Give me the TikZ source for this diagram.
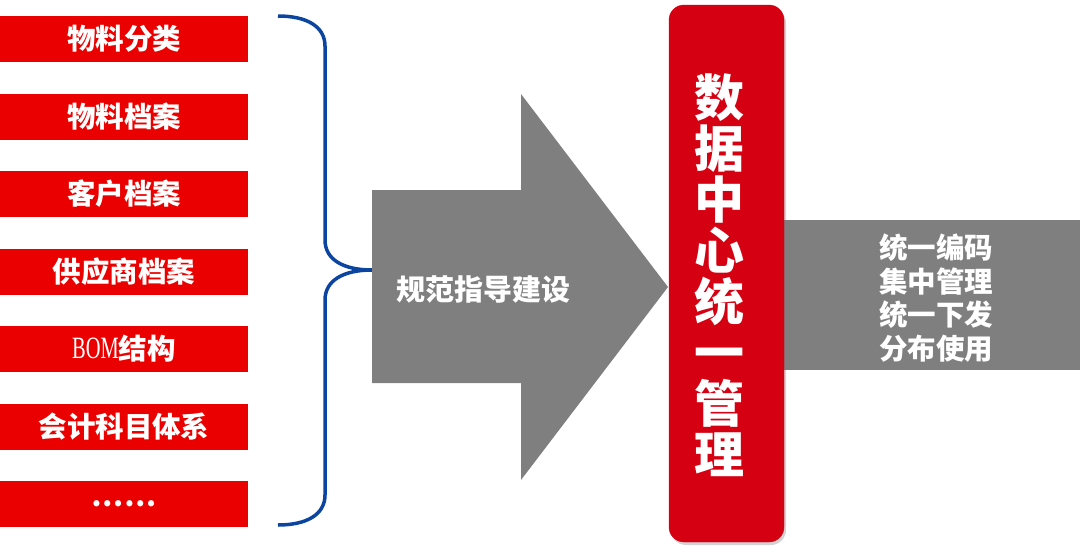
\documentclass[tikz,border=0pt]{standalone}
\usepackage{fontspec}
\usepackage{graphicx}
\setmainfont{Noto Sans CJK SC}
\newfontfamily\bomfont{Liberation Serif}
\usepackage{tikz}
\usetikzlibrary{positioning}
\usetikzlibrary{shadows}

\definecolor{itemred}{HTML}{EB0000}
\definecolor{centerred}{HTML}{D50012}
\definecolor{bargray}{HTML}{7F7F7F}
\definecolor{braceblue}{HTML}{0C45A0}

\begin{document}
\begin{tikzpicture}[
  x=1pt, y=-1pt,
  item/.style={fill=itemred, text=white, minimum width=248pt, minimum height=46pt,
    inner sep=0pt, outer sep=0pt, font=\fontsize{28.5}{30}\selectfont\bfseries},
  label/.style={text=white, inner sep=0pt, font=\fontsize{28.5}{33.7}\selectfont\bfseries},
]
\useasboundingbox (0,0) rectangle (1080,552);

%% left column
\node[item] (f1) at (124,39)          {物料分类};
\node[item] (f2) [below=31.5pt of f1] {物料档案};
\node[item] (f3) [below=31.5pt of f2] {客户档案};
\node[item] (f4) [below=31.5pt of f3] {供应商档案};
\node[item] (f5) [below=31.5pt of f4] {\raisebox{1pt}{\scalebox{0.66}[1]{\fontsize{31}{31}\bomfont\mdseries BOM}}结构};
\node[item] (f6) [below=31.5pt of f5] {会计科目体系};
\node[item] (f7) [below=31.5pt of f6] {……};

%% brace
\coordinate (bt) at (278,16);
\coordinate (bm) at (372,270);
\coordinate (bb) at (278,525);
\draw[braceblue, line width=3.5pt]
  (bt) .. controls (306,16) and (325,26) .. (325,46) -- (325,240)
  .. controls (325,260) and (344,270) .. (bm)
  .. controls (344,270) and (325,280) .. (325,300) -- (325,495)
  .. controls (325,515) and (306,525) .. (bb);

%% big arrow
\fill[bargray] (372,190) -- (521,190) -- (521,94) -- (668,287)
  -- (521,480) -- (521,383) -- (372,383) -- cycle;
\node[label, font=\fontsize{29}{30}\selectfont\bfseries] (guide) at (483,289) {规范指导建设};

%% right bar
\fill[bargray] (780,220) rectangle (1080,370);
\node[label, align=center] (use) at (936,298) {统一编码\\集中管理\\统一下发\\分布使用};

%% center box
\filldraw[centerred, rounded corners=15pt,
  drop shadow={shadow xshift=2pt, shadow yshift=-3pt, opacity=0.35}]
  (669,5) rectangle (784,542);
\node[label, align=center, font=\fontsize{50}{51}\selectfont\bfseries] (center) at (719,275)
  {数\\据\\中\\心\\统\\一\\管\\理};

\end{tikzpicture}
\end{document}
